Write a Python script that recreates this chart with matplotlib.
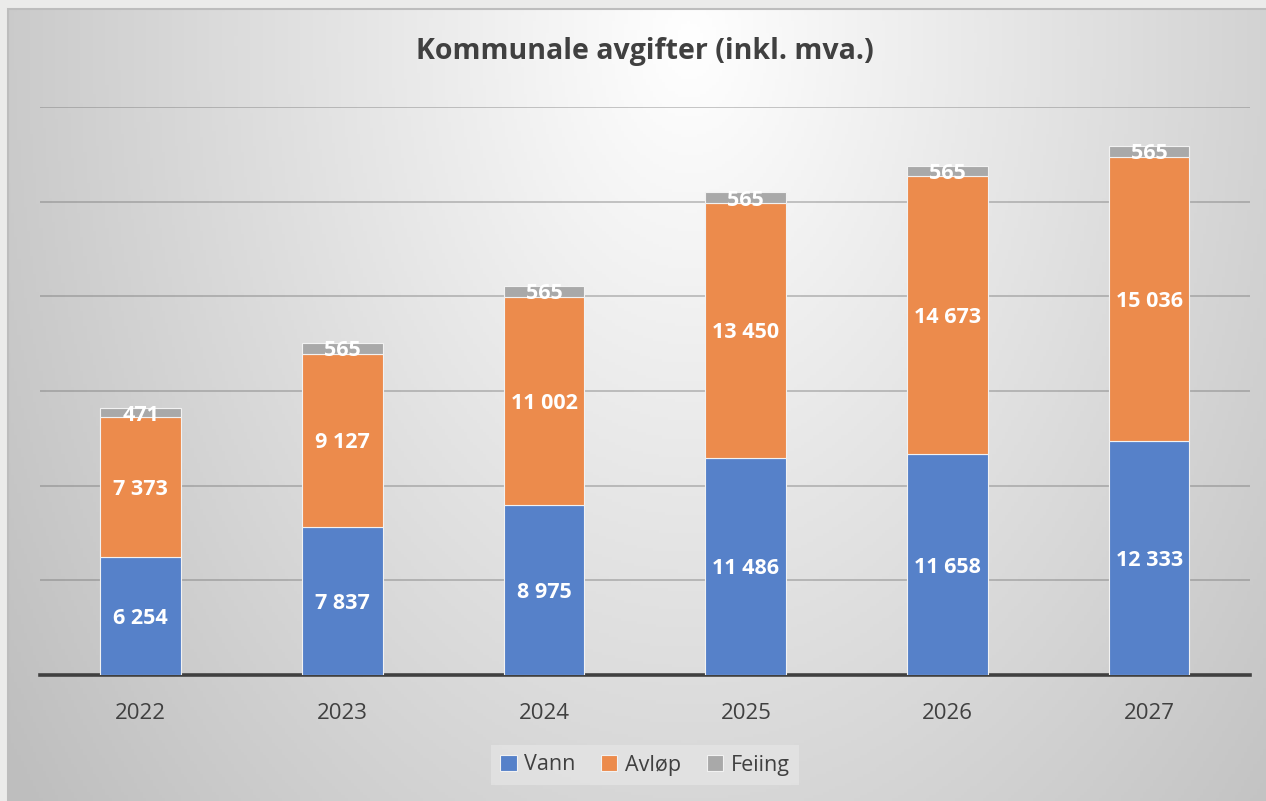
#!/usr/bin/env python3
# -*- coding: utf-8 -*-

import numpy as np
from matplotlib import pyplot as plt
from matplotlib.patches import Rectangle

years = ["2022", "2023", "2024", "2025", "2026", "2027"]
vann = [6254, 7837, 8975, 11486, 11658, 12333]
avlop = [7373, 9127, 11002, 13450, 14673, 15036]
feiing = [471, 565, 565, 565, 565, 565]

series_names = ["Vann", "Avløp", "Feiing"]
colors = ["#5681c9", "#ec8b4c", "#a9a9a9"]

W, H = 1266, 801


def fmt(v):
    return f"{v:,}".replace(",", " ")


def background(fig):
    # grey frame with a soft radial gradient, like the office chart area
    x0, y0 = 8, 9
    bg = fig.add_axes([x0 / W, 0, 1 - x0 / W, 1 - y0 / H], zorder=0)
    xs = np.linspace(x0, W, 400)
    ys = np.linspace(y0, H, 260)
    X, Y = np.meshgrid(xs, ys)
    d = np.sqrt(((X - 690) / 650) ** 2 + ((Y - 40) / 950) ** 2)
    g = np.clip(255 - 50 * d, 190, 255) / 255.0
    img = np.dstack([g, g, g])
    bg.imshow(img, aspect="auto", extent=[0, 1, 0, 1], origin="upper")
    bg.set_xlim(0, 1)
    bg.set_ylim(0, 1)
    bg.axis("off")
    fig.patches.append(Rectangle((x0 / W, -0.01), 1.0, 1 - y0 / H + 0.01,
                                 transform=fig.transFigure, fill=False,
                                 edgecolor="#bdbdbd", lw=1.5, zorder=1))


def plot_data():
    plt.rcParams["font.family"] = ["Open Sans", "DejaVu Sans"]
    fig = plt.figure(figsize=(W / 100, H / 100), dpi=100)
    fig.patch.set_facecolor("#ebebea")
    background(fig)

    ax = fig.add_axes([40 / W, 126 / H, 1210 / W, 568 / H], zorder=2)
    ax.patch.set_alpha(0)
    x = np.arange(len(years))
    bottom = np.zeros(len(years))
    for name, vals, col in zip(series_names, [vann, avlop, feiing], colors):
        bars = ax.bar(x, vals, width=0.4, bottom=bottom, color=col,
                      edgecolor="#f2f2f2", linewidth=0.8, label=name, zorder=3)
        txt = ax.bar_label(bars, labels=[fmt(v) for v in vals], label_type="center",
                           color="white", fontsize=15.5, fontweight="bold", zorder=4)
        for t in txt:
            t.set_y(t.get_position()[1])
            t.set_va("center_baseline")
        bottom += np.array(vals)

    ax.set_xlim(-0.5, len(years) - 0.5)
    ax.set_ylim(0, 30000)
    ax.set_yticks(np.arange(5000, 30001, 5000))
    ax.set_yticklabels([])
    ax.tick_params(axis="y", length=0)
    ax.yaxis.grid(True, color="#707070", alpha=0.45, linewidth=1.2, zorder=1)
    ax.set_axisbelow(True)
    ax.set_xticks(x)
    ax.set_xticklabels(years, fontsize=16, color="#404040")
    ax.tick_params(axis="x", length=0, pad=20)
    for s in ["left", "right", "top"]:
        ax.spines[s].set_visible(False)
    ax.spines["bottom"].set_color("#404040")
    ax.spines["bottom"].set_linewidth(2.6)

    fig.text(645 / W, 1 - 52 / H, "Kommunale avgifter (inkl. mva.)",
             ha="center", va="center", fontsize=20.5, fontweight="bold",
             color="#404040")

    leg = ax.legend(loc="center", bbox_to_anchor=(645 / W, 1 - 765 / H),
                    bbox_transform=fig.transFigure, ncol=3, frameon=True,
                    fontsize=15.5, handlelength=0.75, handleheight=0.75,
                    handletextpad=0.35, columnspacing=1.2, borderpad=0.45)
    leg.get_frame().set_facecolor("#e8e8e8")
    leg.get_frame().set_alpha(0.6)
    leg.get_frame().set_edgecolor("none")
    leg.get_frame().set_boxstyle("square", pad=0)
    for t in leg.get_texts():
        t.set_color("#404040")

    fig.savefig("out.png", dpi=100, facecolor=fig.get_facecolor())


def main():
    plot_data()


if __name__ == "__main__":
    main()
